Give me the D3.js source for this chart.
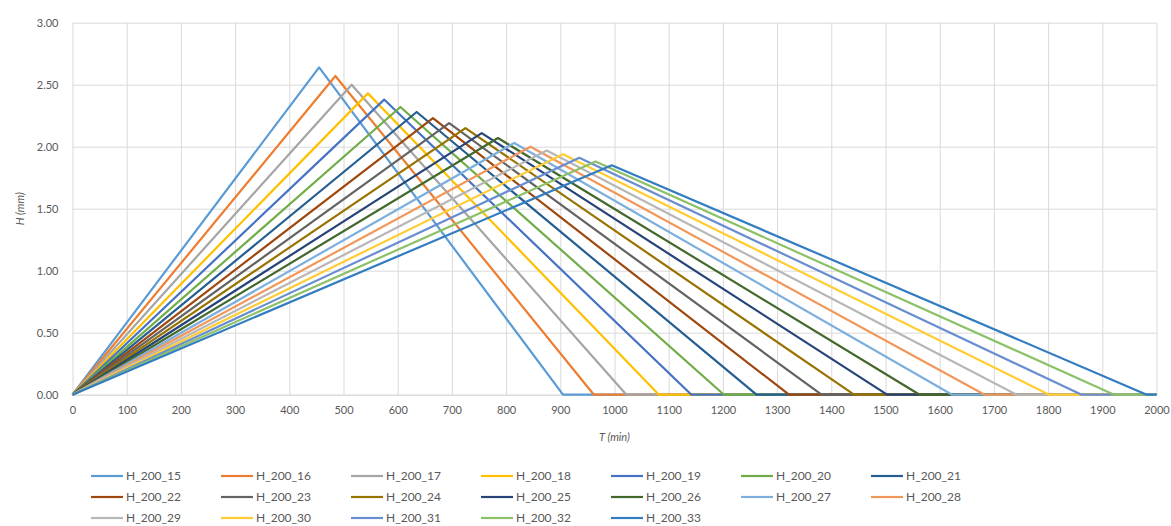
<!DOCTYPE html>
<html>
<head>
<meta charset="utf-8">
<script src="https://cdn.jsdelivr.net/npm/d3@7"></script>
<style>
  body { margin: 0; background: #fff; }
  svg { display: block; }
  text { font-family: Lato, "Open Sans", sans-serif; fill: #595959; }
</style>
</head>
<body>
<div id="chart"></div>
<script>
// series names, one triangle each: rises from 0 to the peak, falls back to 0, stays flat to 2000
const seriesNames = ["H_200_15", "H_200_16", "H_200_17", "H_200_18", "H_200_19", "H_200_20", "H_200_21",
    "H_200_22", "H_200_23", "H_200_24", "H_200_25", "H_200_26", "H_200_27", "H_200_28",
    "H_200_29", "H_200_30", "H_200_31", "H_200_32", "H_200_33"];
// time of the peak (min)
const peakT = [455, 485, 515, 545, 575, 605, 635, 665, 695, 725, 755, 785, 815, 845, 875, 905, 935, 965, 995];
// height of the peak (mm)
const peakH = [2.64, 2.57, 2.50, 2.43, 2.38, 2.32, 2.28, 2.23, 2.19, 2.15, 2.11, 2.07, 2.03, 2.00, 1.97, 1.94, 1.91, 1.88, 1.85];
// time where H is back to zero (min)
const endT = [905, 962, 1022, 1082, 1142, 1202, 1262, 1322, 1382, 1442, 1503, 1563, 1623, 1683, 1742, 1802, 1862, 1922, 1982];
const lastT = 2000;

// Excel palette
const colors = ["#5B9BD5", "#ED7D31", "#A5A5A5", "#FFC000", "#4472C4", "#70AD47", "#255E91",
    "#9E480E", "#636363", "#997300", "#264478", "#43682B", "#7CAFDD", "#F1975A",
    "#B7B7B7", "#FFCD33", "#698ED0", "#8CC168", "#327DC2"];

const xTicks = d3.range(0, 2001, 100);
const yTicks = [0, 0.5, 1, 1.5, 2, 2.5, 3];

const W = 1171, H = 526;
const margin = { top: 22.7, right: 14.5, bottom: 131.3, left: 72.5 },
    width = W - margin.left - margin.right,
    height = H - margin.top - margin.bottom;

const svg = d3.select("#chart")
    .append("svg")
    .attr("width", W)
    .attr("height", H);

const g = svg.append("g")
    .attr("transform", `translate(${margin.left}, ${margin.top})`);

const x = d3.scaleLinear().domain([0, 2000]).range([0, width]);
const y = d3.scaleLinear().domain([0, 3]).range([height, 0]);

// gridlines
g.append("g")
    .call(d3.axisLeft(y).tickValues(yTicks).tickSize(-width).tickFormat(""))
    .call(a => a.select(".domain").remove())
    .selectAll("line").attr("stroke", "#d9d9d9");
g.append("g")
    .attr("transform", `translate(0, ${height})`)
    .call(d3.axisBottom(x).tickValues(xTicks).tickSize(-height).tickFormat(""))
    .call(a => a.select(".domain").remove())
    .selectAll("line").attr("stroke", "#d9d9d9");

// tick labels
const yAxis = g.append("g")
    .call(d3.axisLeft(y).tickValues(yTicks).tickSize(0).tickPadding(14).tickFormat(d3.format(".2f")));
yAxis.select(".domain").remove();
yAxis.selectAll("text").style("font-size", "11px").style("fill", "#595959").style("font-family", "Lato");

const xAxis = g.append("g")
    .attr("transform", `translate(0, ${height})`)
    .call(d3.axisBottom(x).tickValues(xTicks).tickSize(0).tickPadding(12).tickFormat(d3.format("d")));
xAxis.select(".domain").attr("stroke", "#d9d9d9");
xAxis.selectAll("text").style("font-size", "11px").style("fill", "#595959").style("font-family", "Lato");

// axis titles
svg.append("text")
    .attr("x", margin.left + width / 2)
    .attr("y", 441)
    .attr("text-anchor", "middle")
    .style("font-size", "11px")
    .style("font-style", "italic")
    .text("T (min)");
svg.append("text")
    .attr("transform", `translate(24, ${margin.top + height / 2}) rotate(-90)`)
    .attr("text-anchor", "middle")
    .style("font-size", "11px")
    .style("font-style", "italic")
    .text("H (mm)");

// lines
const series = seriesNames.map((name, i) => ({
    name: name,
    color: colors[i],
    points: [[0, 0], [peakT[i], peakH[i]], [endT[i], 0], [lastT, 0]]
}));

const line = d3.line()
    .x(d => x(d[0]))
    .y(d => y(d[1]));

g.selectAll(".series")
    .data(series)
    .join("path")
    .attr("class", "series")
    .attr("d", d => line(d.points))
    .attr("fill", "none")
    .attr("stroke", d => d.color)
    .attr("stroke-width", 2.2)
    .attr("stroke-linejoin", "round");

// legend, 7 per row
const legend = svg.append("g");
const item = legend.selectAll(".item")
    .data(series)
    .join("g")
    .attr("class", "item")
    .attr("transform", (d, i) => `translate(${91 + (i % 7) * 130}, ${476 + Math.floor(i / 7) * 21})`);
item.append("line")
    .attr("x1", 0).attr("x2", 32)
    .attr("stroke", d => d.color)
    .attr("stroke-width", 2.2);
item.append("text")
    .attr("x", 35)
    .attr("dy", "0.35em")
    .style("font-size", "12px")
    .text(d => d.name);
</script>
</body>
</html>
